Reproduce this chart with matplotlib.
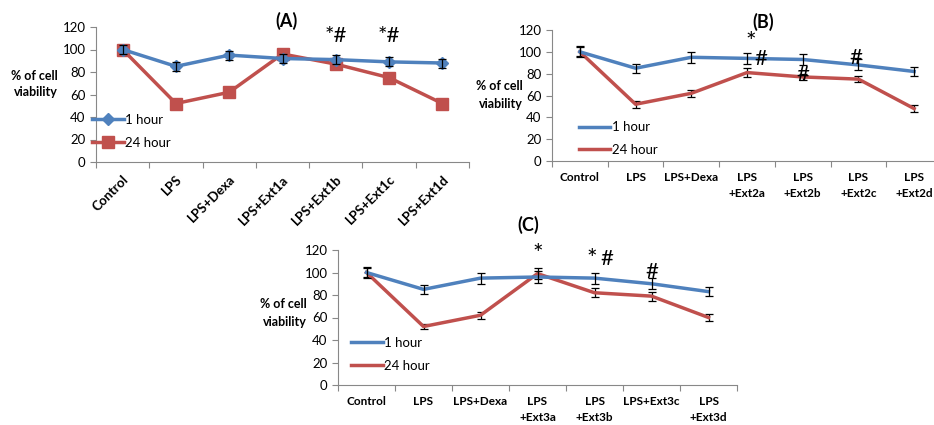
import matplotlib
matplotlib.use("Agg")
import numpy as np
import matplotlib.pyplot as plt

plt.rcParams['font.family'] = ['Lato', 'DejaVu Sans']

BLUE = "#4F81BD"
RED = "#C0504D"

# ---------------- data ----------------
cats_a = ["Control", "LPS", "LPS+Dexa", "LPS+Ext1a", "LPS+Ext1b", "LPS+Ext1c", "LPS+Ext1d"]
a_1h = [100, 85, 95, 92, 91, 89, 88]
a_1h_err = [4, 4, 4, 4, 4, 4, 4]
a_24h = [100, 52, 62, 96, 87, 75, 52]
a_24h_err = [4, 3, 3, 4, 3, 3, 3]

cats_b = ["Control", "LPS", "LPS+Dexa", "LPS\n+Ext2a", "LPS\n+Ext2b", "LPS\n+Ext2c", "LPS\n+Ext2d"]
b_1h = [100, 85, 95, 94, 93, 88, 82]
b_1h_err = [5, 4, 5, 5, 5, 5, 4]
b_24h = [100, 52, 62, 81, 77, 75, 48]
b_24h_err = [4, 3, 3, 4, 3, 3, 3]

cats_c = ["Control", "LPS", "LPS+Dexa", "LPS\n+Ext3a", "LPS\n+Ext3b", "LPS+Ext3c", "LPS\n+Ext3d"]
c_1h = [100, 85, 95, 96, 95, 90, 83]
c_1h_err = [5, 4, 5, 5, 5, 5, 4]
c_24h = [100, 52, 62, 99, 82, 79, 60]
c_24h_err = [4, 2, 3, 5, 4, 4, 3]

fig = plt.figure(figsize=(9.34, 4.25), dpi=100)


def panel(rect, cats, s1, e1, s24, e24, markers, rotate, leg_anchor):
    ax = fig.add_axes(rect)
    x = np.arange(len(cats)) + 0.5
    if markers:
        m1 = dict(marker="D", markersize=6)
        m2 = dict(marker="s", markersize=9)
    else:
        m1 = {}
        m2 = {}
    # error bars first, lines and markers on top
    ax.errorbar(x, s1, yerr=e1, fmt="none", ecolor="black", elinewidth=0.9,
                capsize=3, capthick=0.9, zorder=4)
    ax.errorbar(x, s24, yerr=e24, fmt="none", ecolor="black", elinewidth=0.9,
                capsize=3, capthick=0.9, zorder=1)
    ax.plot(x, s1, color=BLUE, lw=2.5, label="1 hour", zorder=3, **m1)
    ax.plot(x, s24, color=RED, lw=2.5, label="24 hour", zorder=2, **m2)
    ax.set_xlim(0, len(cats))
    ax.set_ylim(0, 120)
    ax.set_yticks(range(0, 121, 20))
    ax.set_xticks(range(len(cats) + 1))
    ax.set_xticklabels([])
    ax.set_xticks(x, minor=True)
    if rotate:
        ax.set_xticklabels(cats, minor=True, rotation=45, ha="right", rotation_mode="anchor",
                           fontsize=9.5, fontweight="bold")
    else:
        ax.set_xticklabels(cats, minor=True, fontsize=8.5, fontweight="bold", linespacing=1.5)
    ax.tick_params(axis="x", which="minor", length=0, pad=8)
    ax.tick_params(axis="x", which="major", length=4, color="#888888")
    ax.tick_params(axis="y", length=4, color="#888888", labelsize=9.5)
    for s in ["top", "right"]:
        ax.spines[s].set_visible(False)
    for s in ["left", "bottom"]:
        ax.spines[s].set_color("#888888")
    ax.legend(loc="lower left", bbox_to_anchor=leg_anchor, frameon=False,
              fontsize=9.5, handlelength=2.4, handletextpad=0.1, labelspacing=0.8,
              borderaxespad=0)
    return ax


def ylab(x_px, y_px):
    fig.text(x_px / 934, 1 - y_px / 425, "% of cell\nviability", fontsize=9,
             fontweight="bold", ha="right", va="center", linespacing=1.5)


# panel A
ax_a = panel([96 / 934, 1 - 162 / 425, 373 / 934, 135 / 425], cats_a, a_1h, a_1h_err,
             a_24h, a_24h_err, True, True, (-0.025, 0.06))
ax_a.text(3.58, 125, "(A)", fontsize=13, fontweight="bold", ha="center", va="center")
ax_a.text(4.5, 103, "*#", fontsize=16, ha="center", va="bottom")
ax_a.text(5.5, 103, "*#", fontsize=16, ha="center", va="bottom")
ylab(58, 84)

# panel B
ax_b = panel([552 / 934, 1 - 161 / 425, 390 / 934, 131 / 425], cats_b, b_1h, b_1h_err,
             b_24h, b_24h_err, False, False, (0.055, 0.0))
ax_b.text(3.79, 127, "(B)", fontsize=13, fontweight="bold", ha="center", va="center")
ax_b.text(3.57, 98, "*", fontsize=18, ha="center", va="bottom")
ax_b.text(3.74, 84, "#", fontsize=16, ha="center", va="bottom")
ax_b.text(4.5, 70, "#", fontsize=16, ha="center", va="bottom")
ax_b.text(5.45, 85, "#", fontsize=16, ha="center", va="bottom")
ylab(523, 95)

# panel C
ax_c = panel([338 / 934, 1 - 385 / 425, 399 / 934, 135 / 425], cats_c, c_1h, c_1h_err,
             c_24h, c_24h_err, False, False, (0.02, 0.06))
ax_c.text(3.33, 142, "(C)", fontsize=13, fontweight="bold", ha="center", va="center")
ax_c.text(3.5, 106, "*", fontsize=18, ha="center", va="bottom")
ax_c.text(4.45, 101, "*", fontsize=18, ha="center", va="bottom")
ax_c.text(4.72, 103, "#", fontsize=16, ha="center", va="bottom")
ax_c.text(5.5, 92, "#", fontsize=16, ha="center", va="bottom")
ylab(307, 313)

fig.savefig("out.png", dpi=100)
